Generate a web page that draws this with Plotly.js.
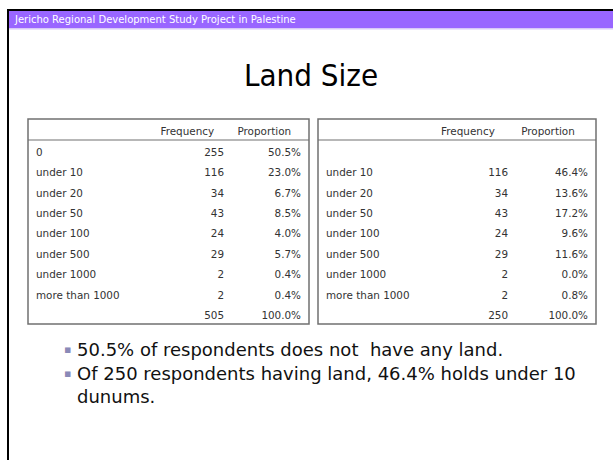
<!DOCTYPE html>
<html>
<head>
<meta charset="utf-8">
<script src="https://cdn.plot.ly/plotly-3.0.1.min.js"></script>
<style>html,body{margin:0;padding:0;background:#fff;}#chart{width:613px;height:460px;}</style>
</head>
<body>
<div id="chart"></div>
<script>
// ---- data ----
const headerLabels = ['', 'Frequency', 'Proportion'];
const leftCategories = ['0', 'under 10', 'under 20', 'under 50', 'under 100', 'under 500', 'under 1000', 'more than 1000', ''];
const leftFrequency = [255, 116, 34, 43, 24, 29, 2, 2, 505];
const leftProportion = [50.5, 23.0, 6.7, 8.5, 4.0, 5.7, 0.4, 0.4, 100.0];
const rightCategories = ['', 'under 10', 'under 20', 'under 50', 'under 100', 'under 500', 'under 1000', 'more than 1000', ''];
const rightFrequency = [null, 116, 34, 43, 24, 29, 2, 2, 250];
const rightProportion = [null, 46.4, 13.6, 17.2, 9.6, 11.6, 0.0, 0.8, 100.0];
const bannerText = 'Jericho Regional Development Study Project in Palestine';
const titleText = 'Land Size';
const bullets = ['50.5% of respondents does not  have any land.',
                 'Of 250 respondents having land, 46.4% holds under 10<br>dunums.'];

// ---- helpers ----
const W = 613, H = 460;
const px = x => x / W;
const py = y => 1 - y / H;
const fmtPct = v => (v === null ? '' : v.toFixed(1) + '%');
const fmtNum = v => (v === null ? '' : String(v));
const pad = (s, n) => s ? s + '\u00a0'.repeat(n) : s;

const tableFont = {family: 'DejaVu Sans', size: 10.4, color: '#333333'};

function makeTable(cats, freq, prop, x0, x1, widths, hpad) {
  return {
    type: 'table',
    domain: {x: [px(x0), px(x1)], y: [py(324), py(119)]},
    columnwidth: widths,
    header: {
      values: headerLabels.map(h => pad(h, hpad)),
      align: ['left', 'right', 'right'],
      height: 21,
      font: tableFont,
      fill: {color: 'rgba(0,0,0,0)'},
      line: {width: 0, color: 'rgba(0,0,0,0)'}
    },
    cells: {
      values: [cats, freq.map(fmtNum), prop.map(fmtPct)],
      align: ['left', 'right', 'right'],
      height: 20.4,
      font: tableFont,
      fill: {color: 'rgba(0,0,0,0)'},
      line: {width: 0, color: 'rgba(0,0,0,0)'}
    }
  };
}

const data = [
  makeTable(leftCategories, leftFrequency, leftProportion, 28, 309, [116, 88, 77], 3),
  makeTable(rightCategories, rightFrequency, rightProportion, 318, 596, [108, 90, 80], 4)
];

const border = '#707070';
const shapes = [
  // slide frame
  {type: 'rect', xref: 'paper', yref: 'paper', x0: px(7), x1: px(9), y0: 0, y1: py(9), fillcolor: '#000', line: {width: 0}},
  {type: 'rect', xref: 'paper', yref: 'paper', x0: px(7), x1: 1, y0: py(11), y1: py(9), fillcolor: '#000', line: {width: 0}},
  // purple banner
  {type: 'rect', xref: 'paper', yref: 'paper', x0: px(9), x1: 1, y0: py(28), y1: py(11), fillcolor: '#9966ff', line: {width: 0}},
  {type: 'rect', xref: 'paper', yref: 'paper', x0: px(9), x1: 1, y0: py(29.5), y1: py(28), fillcolor: '#d8c8f8', line: {width: 0}},
  // table boxes
  {type: 'rect', xref: 'paper', yref: 'paper', x0: px(28), x1: px(309), y0: py(324), y1: py(119), line: {color: border, width: 1.5}},
  {type: 'line', xref: 'paper', yref: 'paper', x0: px(28), x1: px(309), y0: py(140), y1: py(140), line: {color: border, width: 1.2}},
  {type: 'rect', xref: 'paper', yref: 'paper', x0: px(318), x1: px(596), y0: py(324), y1: py(119), line: {color: border, width: 1.5}},
  {type: 'line', xref: 'paper', yref: 'paper', x0: px(318), x1: px(596), y0: py(140), y1: py(140), line: {color: border, width: 1.2}}
];

const annotations = [
  {xref: 'paper', yref: 'paper', x: px(12), y: py(19.5), xanchor: 'left', yanchor: 'middle', showarrow: false,
   text: bannerText, font: {family: 'DejaVu Sans', size: 10, color: '#ffffff'}},
  {xref: 'paper', yref: 'paper', x: px(311), y: py(75), xanchor: 'center', yanchor: 'middle', showarrow: false,
   text: titleText, font: {family: 'DejaVu Sans Condensed', size: 31, color: '#000000'}}
];
const bulletY = [349, 373];
bullets.forEach((b, i) => {
  annotations.push({xref: 'paper', yref: 'paper', x: px(62), y: py(bulletY[i]), xanchor: 'left', yanchor: 'middle',
    showarrow: false, text: '\u25AA', font: {family: 'DejaVu Sans', size: 11, color: '#8a8ab8'}});
  annotations.push({xref: 'paper', yref: 'paper', x: px(75), y: py(bulletY[i] - 12), xanchor: 'left', yanchor: 'top',
    align: 'left', showarrow: false, text: b, font: {family: 'DejaVu Sans', size: 18, color: '#111111'}});
});

const layout = {
  width: W, height: H, autosize: false,
  margin: {l: 0, r: 0, t: 0, b: 0, pad: 0},
  paper_bgcolor: '#ffffff', plot_bgcolor: '#ffffff',
  showlegend: false,
  shapes: shapes,
  annotations: annotations
};

Plotly.newPlot('chart', data, layout, {displayModeBar: false, staticPlot: true});
</script>
</body>
</html>
